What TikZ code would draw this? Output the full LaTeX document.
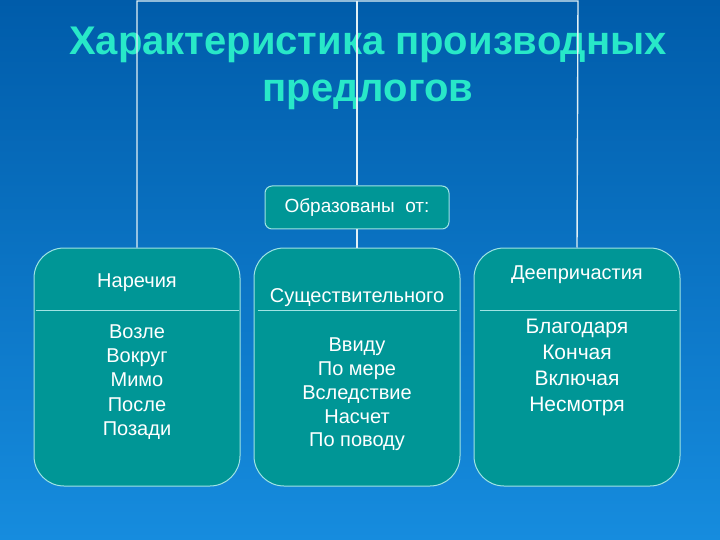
\documentclass[tikz,border=0pt]{standalone}
\usepackage{fontspec}
\setmainfont{Liberation Sans}
\usetikzlibrary{calc}
\definecolor{bgtop}{RGB}{0,92,170}
\definecolor{bgbot}{RGB}{22,140,222}
\definecolor{boxfill}{RGB}{0,150,150}
\definecolor{edgec}{RGB}{160,228,228}
\definecolor{titlec}{RGB}{40,232,200}
\definecolor{linec}{RGB}{225,240,245}
\begin{document}
\begin{tikzpicture}[x=1pt,y=-1pt,
  catbox/.style={draw=edgec, line width=1pt, fill=boxfill, rounded corners=30pt,
    minimum width=206pt, minimum height=238pt, inner sep=0pt},
  formbox/.style={draw=edgec, line width=1pt, fill=boxfill, rounded corners=7pt,
    minimum width=184pt, minimum height=43pt, inner sep=0pt, text=white,
    font=\fontsize{19}{22}\selectfont},
  conn/.style={draw=linec, line width=1.4pt},
  divider/.style={draw=edgec, line width=1pt},
  hdr/.style={text=white, font=\fontsize{20}{24}\selectfont, inner sep=0pt},
  items/.style={text=white, align=center, inner sep=0pt},
  titlestyle/.style={text=titlec, align=center, inner sep=0pt,
    font=\fontsize{40}{47}\selectfont\bfseries}
]
\shade[top color=bgtop, bottom color=bgbot] (0,0) rectangle (720,540);
\useasboundingbox (0,0) rectangle (720,540);

\node[titlestyle] (title) at (368,68) {Характеристика производных\\предлогов};

\node[catbox] (adv) at (137,367) {};
\node[catbox] (noun) at (357,367) {};
\node[catbox] (deep) at (577,367) {};
\node[formbox] (form) at (357,207.5) {Образованы~~от:};

\coordinate (t1) at (137,1);
\coordinate (t2) at (357,1);
\coordinate (t3) at (578,1);
\draw[conn] (adv.north) -- (t1) -- (t3) -- (deep.north);
\draw[conn] (t2) -- (form.north);
\draw[conn] (form.south) -- (noun.north);

\draw[divider] ($(adv.north west)+(2,63)$) -- ($(adv.north east)+(-2,63)$);
\draw[divider] ($(noun.north west)+(4,63)$) -- ($(noun.north east)+(-4,63)$);
\draw[divider] ($(deep.north west)+(6,63)$) -- ($(deep.north east)+(-4,63)$);

\node[hdr] (hadv) at (137,283) {Наречия};
\node[hdr] (hnoun) at (357,298) {Существительного};
\node[hdr] (hdeep) at (577,275) {Деепричастия};

\node[items, font=\fontsize{20}{24.2}\selectfont] (ladv) at (137,382)
  {Возле\\Вокруг\\Мимо\\После\\Позади};
\node[items, font=\fontsize{20}{23.8}\selectfont] (lnoun) at (357,394.5)
  {Ввиду\\По мере\\Вследствие\\Насчет\\По поводу};
\node[items, font=\fontsize{21}{26.3}\selectfont] (ldeep) at (577,367.5)
  {Благодаря\\Кончая\\Включая\\Несмотря};
\end{tikzpicture}
\end{document}
